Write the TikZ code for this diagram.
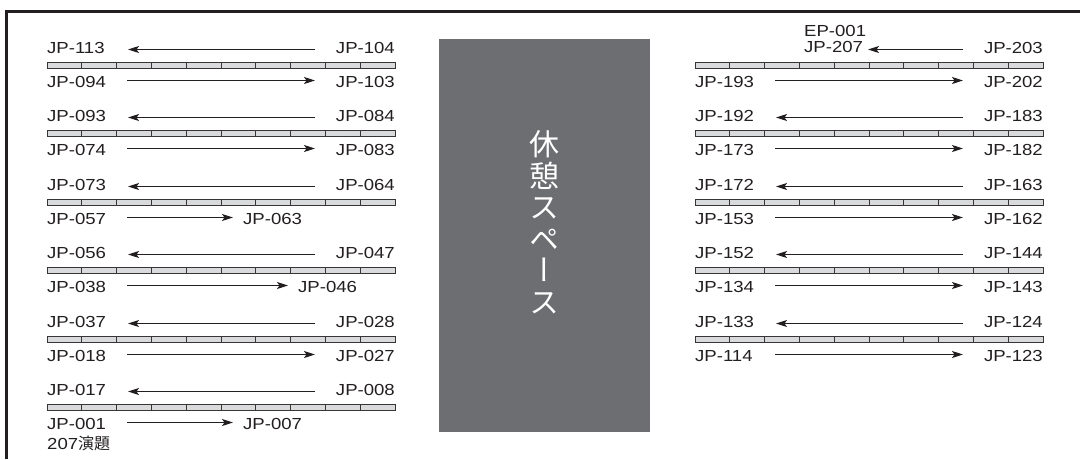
\documentclass[tikz,border=0pt]{standalone}
\usepackage{fontspec}
\newfontfamily\labfont{Liberation Sans}[FakeStretch=1.16]
\newfontfamily\cjkfont{Noto Sans CJK JP}
\newfontfamily\cjkvfont{Noto Sans CJK JP}[RawFeature=+vert]
\usetikzlibrary{arrows.meta}
\definecolor{ink}{HTML}{231F20}
\definecolor{boxgray}{HTML}{6D6E71}
\definecolor{segfill}{HTML}{D9DADB}
\tikzset{
  lab/.style={font=\labfont\fontsize{16}{17}\selectfont, text=ink, inner sep=0pt},
  seg/.style={draw=ink!90, line width=1pt, fill=segfill},
  arr/.style={draw=ink, line width=1.5pt, -{Stealth[length=11pt,width=7pt,inset=2.5pt]}},
  frame/.style={draw=ink, line width=3pt, line join=miter},
  rest/.style={fill=boxgray, draw=none}
}
% bar, top labels, top arrow, bottom-left label, bottom arrow start
\newcommand\toprow[6]{%
  \foreach \i in {0,...,9}{\draw[seg] ({#2+\i*34.8},{#3-3}) rectangle ++(34.8,6);}
  \node[lab, anchor=base west] (#1tl) at (#2,{#3-12}) {#4};
  \node[lab, anchor=base east] (#1tr) at ({#2+348},{#3-12}) {#5};
  \node[lab, anchor=base west] (#1bl) at (#2,{#3+22}) {#6};
  \coordinate (#1ts) at ({#2+268},{#3-15.5});
  \coordinate (#1te) at ({#2+81},{#3-15.5});
  \coordinate (#1bs) at ({#2+80},{#3+15.5});
}
\newcommand\topnormal[1]{\draw[arr] (#1ts) -- (#1te);}
% full-length bottom arrow, right label at bar end
\newcommand\botfull[4]{%
  \node[lab, anchor=base east] (#1br) at ({#2+348},{#3+22}) {#4};
  \coordinate (#1be) at ({#2+268},{#3+15.5});
  \draw[arr] (#1bs) -- (#1be);
}
% short bottom arrow, right label after arrow
\newcommand\botshort[5]{%
  \node[lab, anchor=base west] (#1br) at ({#5},{#3+22}) {#4};
  \coordinate (#1be) at ({#5-10},{#3+15.5});
  \draw[arr] (#1bs) -- (#1be);
}
\begin{document}
\begin{tikzpicture}[x=1pt,y=-1pt]
\useasboundingbox (0,0) rectangle (1080,459);
\fill[white] (0,0) rectangle (1080,459);
% outer frame
\draw[frame] (6.7,459) -- (6.7,11.7) -- (1080,11.7);
% rest space
\node[rest, minimum width=211pt, minimum height=393pt, anchor=north west, inner sep=0pt] (restbox) at (439,39) {};
\node[font=\cjkvfont\fontsize{30}{31.5}\selectfont, text=white, align=center, inner sep=0pt] (resttext) at (544.5,222) {休\\憩\\ス\\ペ\\ー\\ス};
% left table
\toprow{a}{47}{65}{JP-113}{JP-104}{JP-094}\topnormal{a}\botfull{a}{47}{65}{JP-103}
\toprow{b}{47}{133}{JP-093}{JP-084}{JP-074}\topnormal{b}\botfull{b}{47}{133}{JP-083}
\toprow{c}{47}{202}{JP-073}{JP-064}{JP-057}\topnormal{c}\botshort{c}{47}{202}{JP-063}{243}
\toprow{d}{47}{270}{JP-056}{JP-047}{JP-038}\topnormal{d}\botshort{d}{47}{270}{JP-046}{298}
\toprow{e}{47}{339}{JP-037}{JP-028}{JP-018}\topnormal{e}\botfull{e}{47}{339}{JP-027}
\toprow{f}{47}{407}{JP-017}{JP-008}{JP-001}\topnormal{f}\botshort{f}{47}{407}{JP-007}{243}
\node[lab, anchor=base west] (title) at (47,449) {207{\cjkfont\fontsize{16}{17}\selectfont 演題}};
% right table
\toprow{g}{695}{65}{}{JP-203}{JP-193}\botfull{g}{695}{65}{JP-202}
\node[lab, anchor=base west] (gjp) at (804,52) {JP-207};
\node[lab, anchor=base west] (gep) at (804,36) {EP-001};
\coordinate (gtip) at (868,49.5);
\draw[arr] (gts) -- (gtip);
\toprow{h}{695}{133}{JP-192}{JP-183}{JP-173}\topnormal{h}\botfull{h}{695}{133}{JP-182}
\toprow{i}{695}{202}{JP-172}{JP-163}{JP-153}\topnormal{i}\botfull{i}{695}{202}{JP-162}
\toprow{j}{695}{270}{JP-152}{JP-144}{JP-134}\topnormal{j}\botfull{j}{695}{270}{JP-143}
\toprow{k}{695}{339}{JP-133}{JP-124}{JP-114}\topnormal{k}\botfull{k}{695}{339}{JP-123}
\end{tikzpicture}
\end{document}
